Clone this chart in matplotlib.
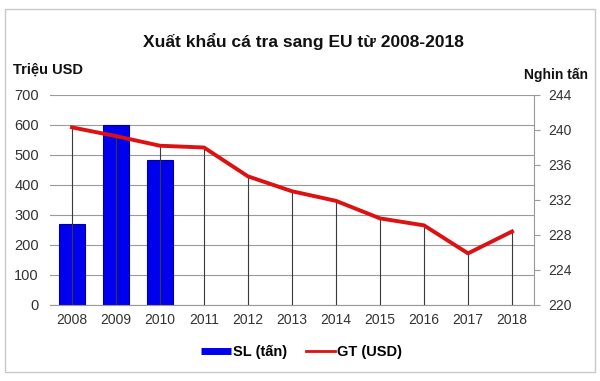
import matplotlib
matplotlib.use('Agg')
import matplotlib.pyplot as plt
import matplotlib.patches as patches
from matplotlib.lines import Line2D

plt.rcParams['font.family'] = ['Liberation Sans', 'DejaVu Sans']

# data
years = ['2008', '2009', '2010', '2011', '2012', '2013', '2014', '2015', '2016', '2017', '2018']
sl_values = [270, 600, 485]  # bars, only 2008-2010
gt_values = [240.3, 239.3, 238.2, 238.0, 234.7, 233.0, 231.9, 229.9, 229.1, 225.9, 228.4]
left_ticks = [0, 100, 200, 300, 400, 500, 600, 700]
right_ticks = [220, 224, 228, 232, 236, 240, 244]

fig = plt.figure(figsize=(6, 3.81), dpi=100)
ax = fig.add_axes([50 / 600, 76 / 381, 484 / 600, 210 / 381])
ax2 = ax.twinx()

x = list(range(len(years)))

# bars (left axis)
ax.bar(x[:len(sl_values)], sl_values, width=0.6, color='#0000ee',
       edgecolor='#00009a', linewidth=0.8, zorder=2)
ax.set_ylim(0, 700)
ax.set_yticks(left_ticks)
ax.set_xlim(-0.5, len(years) - 0.5)
ax.set_xticks(x)
ax.set_xticklabels(years)
ax.grid(axis='y', color='#9a9a9a', linewidth=0.8, zorder=0)
ax.set_axisbelow(True)
for s in ['top', 'left', 'right']:
    ax.spines[s].set_visible(False)
ax.spines['bottom'].set_color('#9a9a9a')
ax.spines['bottom'].set_linewidth(0.8)
ax.tick_params(axis='y', length=0, pad=8, labelsize=10.5, labelcolor='#333333')
ax.tick_params(axis='x', length=0, pad=6, labelsize=10, labelcolor='#333333')

# line with drop lines (right axis)
ax2.set_ylim(220, 244)
ax2.set_yticks(right_ticks)
ax2.vlines(x, 220, gt_values, color='#3a3a3a', linewidth=0.8, zorder=2)
ax2.plot(x, gt_values, color='#dd1111', linewidth=2.8, zorder=3,
         solid_joinstyle='round')
for s in ['top', 'left', 'bottom']:
    ax2.spines[s].set_visible(False)
ax2.spines['right'].set_color('#9a9a9a')
ax2.spines['right'].set_linewidth(0.8)
ax2.tick_params(axis='y', length=4, color='#9a9a9a', pad=6, labelsize=10,
                labelcolor='#333333')

# titles and axis captions
fig.text(0.505, (381 - 42) / 381, 'Xuất khẩu cá tra sang EU từ 2008-2018',
         ha='center', va='center', fontsize=12.5, fontweight='bold', color='#111111')
fig.text(13 / 600, (381 - 70) / 381, 'Triệu USD', ha='left', va='center',
         fontsize=10.5, fontweight='bold', color='#111111')
fig.text(588 / 600, (381 - 75) / 381, 'Nghin tấn', ha='right', va='center',
         fontsize=10, fontweight='bold', color='#111111')

# legend
handles = [Line2D([0], [0], color='#0000ee', linewidth=5, solid_capstyle='butt'),
           Line2D([0], [0], color='#dd1111', linewidth=2)]
fig.legend(handles, ['SL (tấn)', 'GT (USD)'], loc='center', ncol=2,
           bbox_to_anchor=(0.503, (381 - 352) / 381), frameon=False,
           handlelength=2.0, handletextpad=0.15, columnspacing=1.3,
           prop={'size': 10.5, 'weight': 'bold'})

# chart area border
fig.patches.append(patches.Rectangle((5 / 600, 9 / 381), 590 / 600, 363 / 381,
                                     transform=fig.transFigure, fill=False,
                                     edgecolor='#c8c8c8', linewidth=1.0))

fig.savefig('out.png', dpi=100)
